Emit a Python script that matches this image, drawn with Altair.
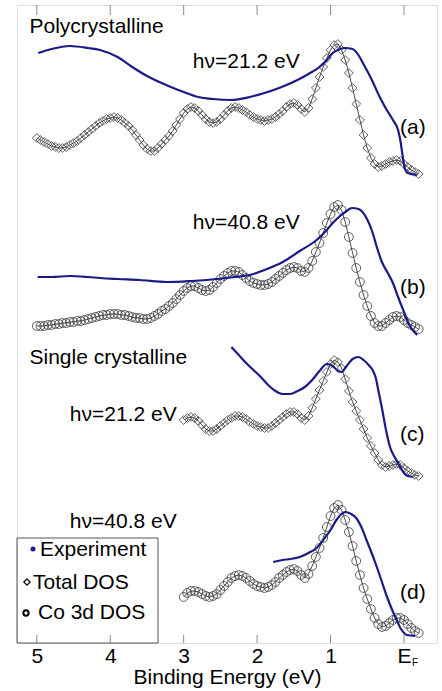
import altair as alt
import pandas as pd

# ---------------- data ----------------
# Binding energy grids (eV) on which the calculated DOS curves were read
E_FULL = [round(5.0 - 0.05 * i, 2) for i in range(105)]   # 5.00 ... -0.20
E_SHORT = [round(3.0 - 0.05 * i, 2) for i in range(65)]   # 3.00 ... -0.20

# (a) Polycrystalline, hv = 21.2 eV : Total DOS (offset intensity, arb. units)
dos_a = [505, 503, 501, 499, 497, 496, 495, 495, 496, 498,
         500, 502, 505, 508, 511, 514, 517, 520, 522, 524,
         525, 526, 525, 523, 520, 517, 513, 508, 503, 498,
         494, 492, 492, 495, 499, 503, 507, 512, 518, 524,
         530, 534, 536, 535, 532, 528, 524, 521, 520, 521,
         524, 528, 532, 535, 536, 535, 533, 531, 528, 526,
         524, 523, 522, 523, 524, 526, 529, 532, 536, 539,
         540, 538, 534, 531, 535, 544, 555, 566, 576, 585,
         593, 598, 599, 593, 583, 570, 555, 539, 523, 508,
         495, 485, 479, 476, 477, 479, 481, 482, 483, 482,
         479, 476, 473, 471, 469]
exp_a_E = [4.98, 4.80, 4.55, 4.30, 4.14, 3.90, 3.70, 3.50, 3.24, 3.00, 2.80, 2.60,
           2.35, 2.10, 1.90, 1.70, 1.45, 1.30, 1.15, 1.05, 0.97, 0.87, 0.80, 0.70,
           0.62, 0.56, 0.45, 0.33, 0.25, 0.15, 0.08, 0.05, 0.02, -0.01, -0.05, -0.18]
exp_a_I = [590, 594, 597, 595, 593, 586, 576, 567, 558, 551, 546, 544,
           543, 546, 550, 555, 563, 569, 576, 583, 590, 594, 595, 594,
           588, 580, 565, 546, 535, 523, 513, 503, 488, 475, 470, 468]

# (b) Polycrystalline, hv = 40.8 eV : Co 3d DOS
dos_b = [317, 317, 317, 318, 318, 319, 319, 320, 320, 321,
         321, 322, 322, 323, 324, 325, 326, 327, 328, 328,
         329, 329, 329, 328, 328, 327, 326, 325, 325, 324,
         324, 325, 327, 329, 332, 334, 337, 340, 344, 348,
         352, 355, 357, 357, 355, 353, 352, 353, 356, 360,
         364, 367, 370, 372, 372, 371, 368, 365, 362, 360,
         359, 358, 358, 359, 361, 364, 367, 370, 373, 375,
         376, 375, 372, 371, 375, 382, 391, 400, 410, 420,
         429, 436, 438, 433, 421, 406, 390, 375, 361, 348,
         337, 327, 320, 317, 317, 320, 323, 326, 327, 326,
         323, 320, 318, 316, 314]
exp_b_E = [4.99, 4.80, 4.55, 4.30, 4.14, 3.90, 3.60, 3.23, 2.90, 2.55, 2.30, 2.10,
           1.90, 1.65, 1.42, 1.19, 1.05, 0.97, 0.87, 0.78, 0.71, 0.62, 0.51, 0.43,
           0.37, 0.30, 0.22, 0.15, 0.08, 0.01, -0.08, -0.18]
exp_b_I = [366, 366, 367, 366, 365, 364, 363, 361, 362, 364, 366, 368,
           373, 381, 392, 403, 413, 420, 427, 432, 435, 434, 425, 411,
           396, 381, 370, 360, 346, 333, 317, 308]

# (c) Single crystalline, hv = 21.2 eV : Total DOS
dos_c = [223, 225, 226, 225, 222, 218, 214, 212, 212, 214,
         217, 220, 223, 225, 227, 227, 226, 224, 221, 219,
         217, 216, 215, 215, 217, 220, 223, 226, 229, 231,
         231, 229, 225, 223, 227, 235, 244, 253, 262, 271,
         279, 283, 281, 275, 264, 252, 241, 232, 223, 214,
         205, 197, 190, 183, 178, 176, 177, 178, 179, 178,
         175, 172, 170, 168, 167]
exp_c_E = [2.35, 2.25, 2.15, 2.05, 1.95, 1.85, 1.75, 1.65, 1.55, 1.45, 1.35, 1.25,
           1.15, 1.05, 0.97, 0.90, 0.85, 0.78, 0.70, 0.62, 0.55, 0.47, 0.42, 0.38,
           0.35, 0.30, 0.25, 0.19, 0.12, 0.05, 0.00, -0.05, -0.13]
exp_c_I = [296, 288, 280, 273, 266, 258, 252, 249, 249, 252, 256, 263,
           272, 279, 277, 272, 271, 277, 284, 286, 283, 277, 272, 264,
           253, 235, 215, 196, 185, 176, 170, 167, 166]

# (d) Single crystalline, hv = 40.8 eV : Co 3d DOS
dos_d = [46, 50, 52, 52, 51, 49, 47, 46, 47, 49,
         53, 57, 61, 65, 67, 68, 67, 65, 62, 59,
         57, 56, 55, 56, 58, 61, 65, 68, 71, 73,
         74, 72, 68, 65, 69, 77, 86, 95, 105, 116,
         127, 135, 138, 133, 123, 111, 97, 82, 68, 55,
         44, 34, 25, 19, 16, 17, 20, 23, 25, 25,
         23, 19, 15, 12, 10]
exp_d_E = [1.78, 1.65, 1.55, 1.42, 1.30, 1.19, 1.10, 1.00, 0.92, 0.85, 0.80, 0.72,
           0.65, 0.58, 0.51, 0.44, 0.37, 0.30, 0.23, 0.16, 0.10, 0.04, -0.04, -0.15]
exp_d_I = [81, 83, 84, 86, 90, 95, 103, 113, 123, 129, 131, 129,
           125, 116, 103, 90, 76, 61, 46, 33, 23, 14, 8, 7]

tick_values = [5, 4, 3, 2, 1, 0]

annotations = ["Polycrystalline", "hν=21.2 eV", "(a)", "hν=40.8 eV", "(b)",
               "Single crystalline", "hν=21.2 eV", "(c)", "hν=40.8 eV", "(d)"]
ann_E = [5.10, 2.875, 0.054, 2.875, 0.054, 5.10, 4.55, 0.054, 4.55, 0.054]
ann_I = [616, 581, 515, 420, 355, 285, 228, 208, 121, 50]

# ---------------- tables ----------------
dos_rows = []
for panel, kind, grid, vals in [("a", "Total DOS", E_FULL, dos_a),
                                ("b", "Co 3d DOS", E_FULL, dos_b),
                                ("c", "Total DOS", E_SHORT, dos_c),
                                ("d", "Co 3d DOS", E_SHORT, dos_d)]:
    for e, v in zip(grid, vals):
        dos_rows.append({"E": e, "I": v, "panel": panel, "kind": kind})
dos_df = pd.DataFrame(dos_rows)

exp_rows = []
for panel, es, vs in [("a", exp_a_E, exp_a_I), ("b", exp_b_E, exp_b_I),
                      ("c", exp_c_E, exp_c_I), ("d", exp_d_E, exp_d_I)]:
    for e, v in zip(es, vs):
        exp_rows.append({"E": e, "I": v, "panel": panel})
exp_df = pd.DataFrame(exp_rows)

ticks_df = pd.DataFrame({"E": tick_values})
ann_df = pd.DataFrame({"text": annotations, "E": ann_E, "I": ann_I})
one = pd.DataFrame({"k": [0]})

FONT = "Liberation Sans"
FS = 21
FRAME = "#8a8a8a"
NAVY = "#1a1a88"

x_enc = alt.X("E:Q",
              scale=alt.Scale(domain=[-0.45, 5.27], reverse=True, nice=False, zero=False),
              axis=alt.Axis(values=tick_values, ticks=False, domain=False, grid=False,
                            labelFontSize=FS, labelColor="black", labelFont=FONT,
                            labelPadding=2,
                            labelExpr="datum.value == 0 ? 'E' : datum.label",
                            title="Binding Energy (eV)", titleFontSize=FS,
                            titleFont=FONT, titleFontWeight="normal", titleColor="black",
                            titlePadding=0))
y_enc = alt.Y("I:Q", scale=alt.Scale(domain=[0, 638], nice=False, zero=False), axis=None)

ticks_bottom = alt.Chart(ticks_df).mark_rule(color=FRAME, strokeWidth=1).encode(
    x=x_enc, y=alt.value(638), y2=alt.value(630))
ticks_top = alt.Chart(ticks_df).mark_rule(color=FRAME, strokeWidth=1).encode(
    x=x_enc, y=alt.value(0), y2=alt.value(10))

dos_line = alt.Chart(dos_df).mark_line(color="black", strokeWidth=0.7).encode(
    x=x_enc, y=y_enc, detail="panel:N", order="E:Q")
dos_pts = alt.Chart(dos_df).mark_point(filled=False, size=78, strokeWidth=0.9,
                                       color="#3a3a3a", opacity=0.9).encode(
    x=x_enc, y=y_enc,
    shape=alt.Shape("kind:N", scale=alt.Scale(domain=["Total DOS", "Co 3d DOS"],
                                              range=["diamond", "circle"]), legend=None))
exp_line = alt.Chart(exp_df).mark_line(color=NAVY, strokeWidth=2.2,
                                       interpolate="monotone").encode(
    x=x_enc, y=y_enc, detail="panel:N", order="E:Q")

ann = alt.Chart(ann_df).mark_text(align="left", baseline="middle", fontSize=FS,
                                  font=FONT, color="black").encode(
    x=x_enc, y=y_enc, text="text:N")

sub_f = alt.Chart(pd.DataFrame({"E": [0]})).mark_text(
    align="center", baseline="middle", fontSize=10, font=FONT, color="black", dx=11).encode(
    x=x_enc, y=alt.value(658), text=alt.value("F"))

legend_box = alt.Chart(one).mark_rect(fillOpacity=0, stroke="#555555", strokeWidth=1).encode(
    x=alt.value(0), x2=alt.value(141), y=alt.value(533), y2=alt.value(638))


def leg_symbol(px, py, shape, size, filled, color, sw):
    return alt.Chart(one).mark_point(shape=shape, size=size, filled=filled, color=color,
                                     strokeWidth=sw, opacity=1).encode(
        x=alt.value(px), y=alt.value(py))


def leg_text(px, py, txt):
    return alt.Chart(one).mark_text(align="left", baseline="middle", fontSize=FS,
                                    font=FONT, color="black").encode(
        x=alt.value(px), y=alt.value(py), text=alt.value(txt))


legend_layers = [
    legend_box,
    leg_symbol(16, 544, "circle", 25, True, NAVY, 1),
    leg_text(23, 545, "Experiment"),
    leg_symbol(10, 577, "diamond", 40, False, "black", 1.2),
    leg_text(16, 578, "Total DOS"),
    leg_symbol(9, 608, "circle", 28, False, "black", 2),
    leg_text(21, 608, "Co 3d DOS"),
]

chart = alt.layer(ticks_bottom, ticks_top, dos_line, dos_pts, exp_line, ann, sub_f,
                  *legend_layers).properties(
    width=420, height=638,
    padding={"left": 17, "top": 5, "right": 5, "bottom": 48},
    autosize="none",
).configure_view(stroke=FRAME, strokeWidth=1.2).configure(font=FONT, background="white")

chart.save("out.html", embed_options={"renderer": "svg", "actions": False})
